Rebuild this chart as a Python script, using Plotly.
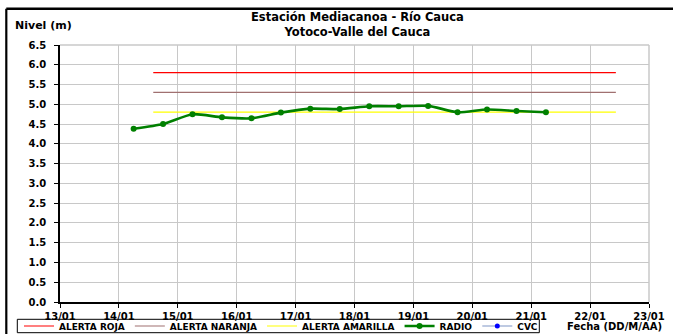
import plotly.graph_objects as go

# ---- data ----
radio_times = [
    "2013-01-14 06:00", "2013-01-14 18:00", "2013-01-15 06:00", "2013-01-15 18:00",
    "2013-01-16 06:00", "2013-01-16 18:00", "2013-01-17 06:00", "2013-01-17 18:00",
    "2013-01-18 06:00", "2013-01-18 18:00", "2013-01-19 06:00", "2013-01-19 18:00",
    "2013-01-20 06:00", "2013-01-20 18:00", "2013-01-21 06:00",
]
radio_values = [4.38, 4.50, 4.75, 4.67, 4.645, 4.79, 4.89, 4.88, 4.95, 4.95, 4.96, 4.80, 4.87, 4.83, 4.80]

alert_span = ["2013-01-14 14:00", "2013-01-22 10:30"]
alerta_roja = [5.8, 5.8]
alerta_naranja = [5.3, 5.3]
alerta_amarilla = [4.8, 4.8]

x_range = ["2013-01-13", "2013-01-23"]
y_range = [0, 6.5]

FONT = "DejaVu Sans"
W, H = 673, 334
ML, MR, MT, MB = 60, 24, 45, 32
PW, PH = W - ML - MR, H - MT - MB


def px(x):
    return (x - ML) / PW


def py(y):
    return (H - MB - y) / PH


fig = go.Figure()
fig.add_trace(go.Scatter(x=alert_span, y=alerta_roja, mode="lines", name="ALERTA ROJA",
                         line=dict(color="#ff0000", width=1.2)))
fig.add_trace(go.Scatter(x=alert_span, y=alerta_naranja, mode="lines", name="ALERTA NARANJA",
                         line=dict(color="#a07070", width=1.2)))
fig.add_trace(go.Scatter(x=alert_span, y=alerta_amarilla, mode="lines", name="ALERTA AMARILLA",
                         line=dict(color="#ffff00", width=1.2)))
fig.add_trace(go.Scatter(x=radio_times, y=radio_values, mode="lines+markers", name="RADIO",
                         line=dict(color="#008000", width=2.6, shape="spline", smoothing=0.6),
                         marker=dict(color="#008000", size=6)))
fig.add_trace(go.Scatter(x=[None], y=[None], mode="lines+markers", name="CVC",
                         line=dict(color="#a8b8d8", width=1.3),
                         marker=dict(color="#0000ff", size=5)))

fig.update_layout(
    width=W, height=H,
    margin=dict(l=ML, r=MR, t=MT, b=MB, autoexpand=False),
    paper_bgcolor="white", plot_bgcolor="white",
    font=dict(family=FONT, size=10, color="black", weight="bold"),
    showlegend=True,
    legend=dict(orientation="h", x=px(19), y=py(326), xanchor="left", yanchor="middle",
                bgcolor="rgba(0,0,0,0)", borderwidth=0,
                font=dict(family=FONT, size=9, weight="bold"),
                itemwidth=30, tracegroupgap=0),
    xaxis=dict(type="date", range=x_range, dtick=86400000, tickformat="%d/%m",
               showgrid=True, gridcolor="#c8c8c8", gridwidth=1,
               showline=True, linecolor="black", linewidth=1.5,
               ticks="outside", ticklen=4, tickcolor="black",
               tickfont=dict(family=FONT, size=10, weight="bold"), zeroline=False),
    yaxis=dict(range=y_range, dtick=0.5, tickformat=".1f",
               showgrid=True, gridcolor="#c8c8c8", gridwidth=1,
               showline=True, linecolor="black", linewidth=1.5,
               ticks="outside", ticklen=4, tickcolor="black", ticklabelstandoff=6,
               tickfont=dict(family=FONT, size=10, weight="bold"), zeroline=False),
)

# gray frame on top/right of plot area
fig.add_shape(type="line", xref="paper", yref="paper", x0=0, x1=1, y0=1, y1=1,
              line=dict(color="#c8c8c8", width=1.5))
fig.add_shape(type="line", xref="paper", yref="paper", x0=1, x1=1, y0=0, y1=1,
              line=dict(color="#c8c8c8", width=1.5))
# outer black frame (top and left)
fig.add_shape(type="line", xref="paper", yref="paper", x0=px(6.3), x1=px(700), y0=py(8.7), y1=py(8.7),
              line=dict(color="black", width=2.6))
fig.add_shape(type="line", xref="paper", yref="paper", x0=px(6.3), x1=px(6.3), y0=py(360), y1=py(8.7),
              line=dict(color="black", width=2.2))
# legend frame
fig.add_shape(type="rect", xref="paper", yref="paper", x0=px(17.3), x1=px(539.3), y0=py(319.3), y1=py(332.7),
              line=dict(color="black", width=1), fillcolor="rgba(0,0,0,0)")

fig.add_annotation(text="Estación Mediacanoa - Río Cauca<br>Yotoco-Valle del Cauca",
                   xref="paper", yref="paper", x=px(357), y=py(24), showarrow=False,
                   xanchor="center", yanchor="middle",
                   font=dict(family=FONT, size=11.5, weight="bold"))
fig.add_annotation(text="Nivel (m)", xref="paper", yref="paper", x=px(43.5), y=py(25),
                   showarrow=False, xanchor="center", yanchor="middle",
                   font=dict(family=FONT, size=11, weight="bold"))
fig.add_annotation(text="Fecha (DD/M/AA)", xref="paper", yref="paper", x=px(614.5), y=py(326),
                   showarrow=False, xanchor="center", yanchor="middle",
                   font=dict(family=FONT, size=10, weight="bold"))

fig.write_html("out.html", config={"displayModeBar": False},
               post_script="document.body.style.margin='0';")
